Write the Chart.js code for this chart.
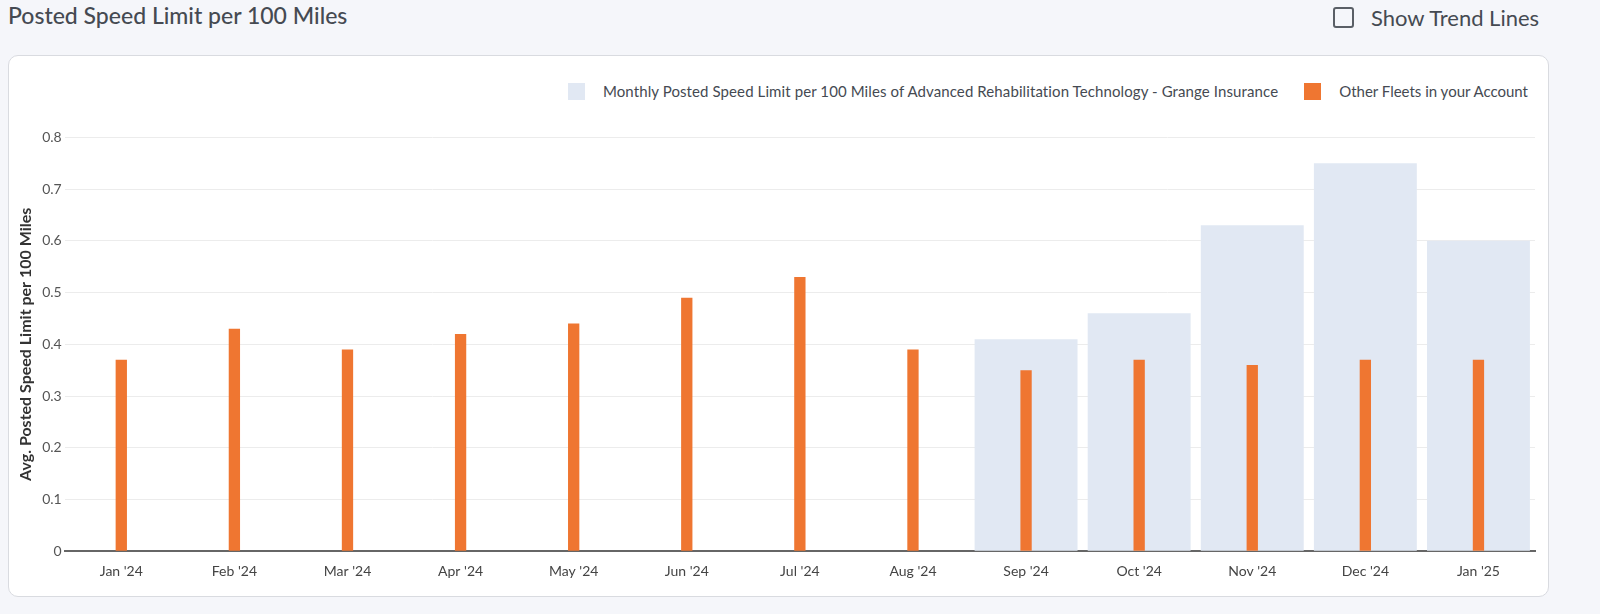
<!DOCTYPE html>
<html>
<head>
<meta charset="utf-8">
<script src="https://cdn.jsdelivr.net/npm/chart.js@4"></script>
<style>
  body { margin: 0; background: #f5f6fa; font-family: Lato, "Noto Sans", sans-serif; width: 1600px; height: 614px; overflow: hidden; position: relative; }
  #title { position: absolute; left: 8px; top: 1px; font-size: 23px; font-weight: 500; color: #454a52; }
  #trend { position: absolute; left: 1333px; top: 4px; font-size: 22px; color: #454a52; display: flex; align-items: center; }
  #trend span.box { width: 17px; height: 17px; border: 2px solid #5a5f66; border-radius: 3px; margin-right: 17px; }
  #card { position: absolute; left: 8px; top: 55px; width: 1539px; height: 540px; background: #fff; border: 1px solid #d9dbe0; border-radius: 10px; }
  #legend { position: absolute; right: 20px; top: 26px; display: flex; font-size: 15px; color: #454a52; }
  #legend .item { display: flex; align-items: center; margin-left: 26px; }
  #legend .item:first-child { letter-spacing: 0.1px; }
  #legend .sw { width: 17px; height: 17px; margin-right: 18px; }
  #wrap { position: absolute; left: 0; top: 70px; width: 1539px; height: 470px; }
</style>
</head>
<body>
<div id="title">Posted Speed Limit per 100 Miles</div>
<div id="trend"><span class="box"></span>Show Trend Lines</div>
<div id="card">
  <div id="legend"></div>
  <div id="wrap"><canvas id="speedChart"></canvas></div>
</div>
<script>
const months = ["Jan '24", "Feb '24", "Mar '24", "Apr '24", "May '24", "Jun '24", "Jul '24", "Aug '24", "Sep '24", "Oct '24", "Nov '24", "Dec '24", "Jan '25"];
const fleetValues = [null, null, null, null, null, null, null, null, 0.41, 0.46, 0.63, 0.75, 0.60];
const otherValues = [0.37, 0.43, 0.39, 0.42, 0.44, 0.49, 0.53, 0.39, 0.35, 0.37, 0.36, 0.37, 0.37];
const seriesNames = ["Monthly Posted Speed Limit per 100 Miles of Advanced Rehabilitation Technology - Grange Insurance", "Other Fleets in your Account"];
const seriesColors = ["#e1e8f3", "#ef7631"];
const yTicks = [0, 0.1, 0.2, 0.3, 0.4, 0.5, 0.6, 0.7, 0.8];

// legend drawn as html so the swatch gap matches
const legend = document.getElementById('legend');
seriesNames.forEach((name, i) => {
  const item = document.createElement('div');
  item.className = 'item';
  item.innerHTML = `<span class="sw" style="background:${seriesColors[i]}"></span>${name}`;
  legend.appendChild(item);
});

const ctx = document.getElementById('speedChart').getContext('2d');
const chart = new Chart(ctx, {
  type: 'bar',
  data: {
    labels: months,
    datasets: [
      { label: seriesNames[0], data: fleetValues, backgroundColor: seriesColors[0], grouped: false, order: 2,
        categoryPercentage: 1, barPercentage: 0.91 },
      { label: seriesNames[1], data: otherValues, backgroundColor: seriesColors[1], grouped: false, order: 1,
        categoryPercentage: 1, barPercentage: 0.1 }
    ]
  },
  options: {
    responsive: true,
    maintainAspectRatio: false,
    animation: false,
    layout: { padding: { left: 3, right: 13, top: 7, bottom: 12 } },
    plugins: { legend: { display: false }, tooltip: { enabled: false } },
    scales: {
      x: {
        grid: { display: false },
        border: { color: '#666', width: 2 },
        ticks: { color: '#444', font: { family: 'Lato', size: 14 }, padding: 4 }
      },
      y: {
        min: 0,
        max: 0.8,
        afterBuildTicks: (axis) => { axis.ticks = yTicks.map(v => ({ value: v })); },
        grid: { color: '#ececec', drawTicks: false },
        border: { display: false },
        ticks: { color: '#555', font: { family: 'Lato', size: 14 }, padding: 3, callback: v => String(v) },
        title: { display: true, text: 'Avg. Posted Speed Limit per 100 Miles', color: '#333',
          font: { family: 'Lato', size: 16, weight: 'bold' }, padding: { bottom: 4 } }
      }
    }
  }
});
</script>
</body>
</html>
